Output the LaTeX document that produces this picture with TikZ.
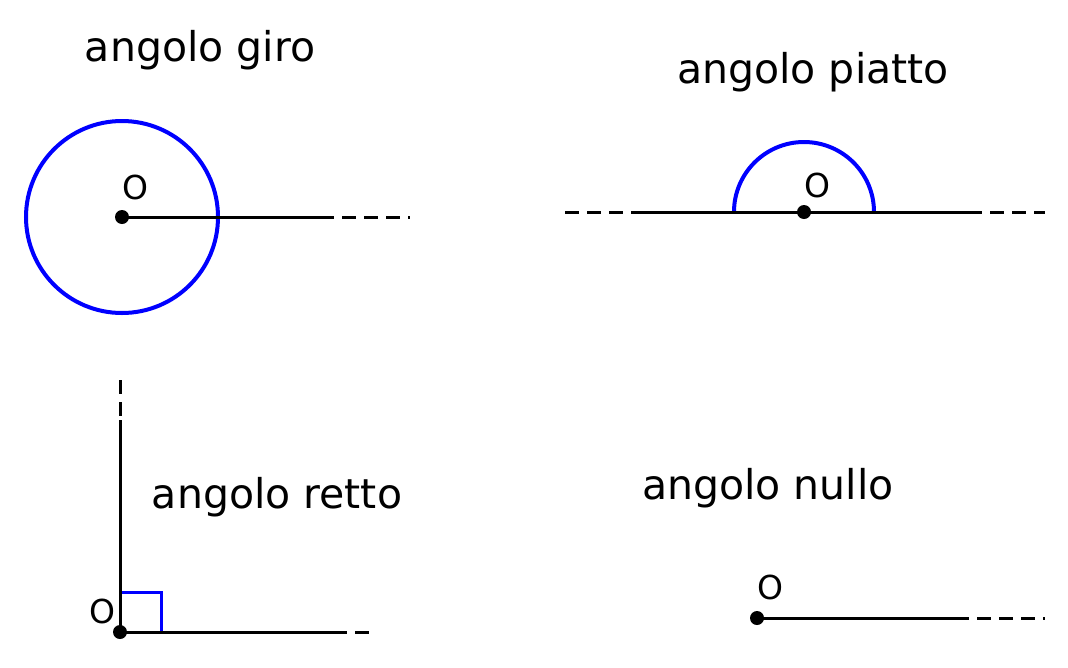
\documentclass[tikz,border=0pt]{standalone}
\usepackage{fontspec}
\setmainfont{DejaVu Sans}
\begin{document}
\begin{tikzpicture}[x=1pt,y=-1pt,line width=3pt,
    title/.style={font=\fontsize{41}{48}\selectfont},
    olabel/.style={font=\fontsize{33}{40}\selectfont},
    dashpart/.style={dash pattern=on 14pt off 8pt},
    arcline/.style={blue,line width=4pt},
    dot/.style={circle,fill=black,inner sep=0pt,minimum size=14pt}]
\useasboundingbox (0,0) rectangle (1068,667);

% angolo giro
\node[title] (tgiro) at (200,50) {angolo giro};
\draw[arcline] (122,217) circle (96);
\coordinate (g1) at (320,217);
\coordinate (g2) at (410,217);
\node[dot] (og) at (122,217) {};
\draw (og.center) -- (g1);
\draw[dashpart] (g1) -- (g2);
\node[olabel] (lg) at (135,187) {O};

% angolo piatto
\node[title] (tpiatto) at (813,72) {angolo piatto};
\draw[arcline] (874,212) arc (0:-180:70);
\coordinate (p0) at (565,212);
\coordinate (p1) at (640,212);
\coordinate (p2) at (968,212);
\coordinate (p3) at (1045,212);
\draw[dashpart] (p0) -- (p1);
\draw (p1) -- (p2);
\draw[dashpart] (p2) -- (p3);
\node[dot] (op) at (804,212) {};
\node[olabel] (lp) at (817,185) {O};

% angolo retto
\node[title] (tretto) at (277,497) {angolo retto};
\coordinate (r0) at (120,380);
\coordinate (r1) at (120,420);
\coordinate (r2) at (333,632);
\coordinate (r3) at (373,632);
\draw[blue,line width=3pt] (120,592) rectangle (161,632);
\node[dot] (or) at (120,632) {};
\draw[dashpart] (r0) -- (r1);
\draw (r1) -- (or.center) -- (r2);
\draw[dashpart] (r2) -- (r3);
\node[olabel] (lr) at (102,611) {O};

% angolo nullo
\node[title] (tnullo) at (768,488) {angolo nullo};
\coordinate (n1) at (955,618);
\coordinate (n2) at (1045,618);
\node[dot] (on) at (757,618) {};
\draw (on.center) -- (n1);
\draw[dashpart] (n1) -- (n2);
\node[olabel] (ln) at (770,587) {O};
\end{tikzpicture}
\end{document}
